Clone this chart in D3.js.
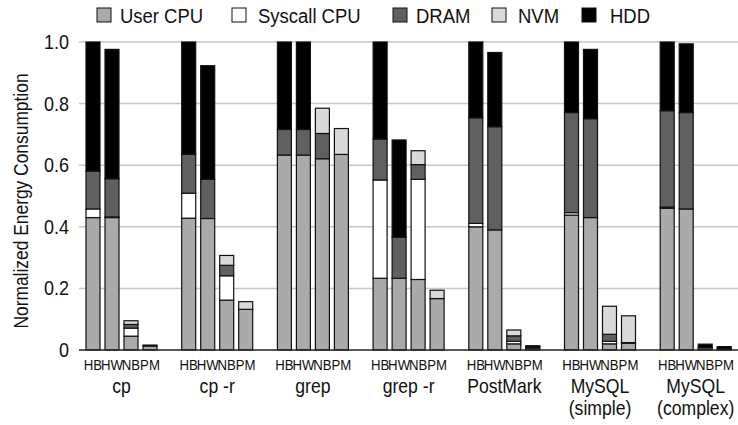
<!DOCTYPE html>
<html><head><meta charset="utf-8">
<script src="https://cdn.jsdelivr.net/npm/d3@7"></script>
<style>
body{margin:0;background:#fff;}
svg text{font-family:"Liberation Sans",Arial,sans-serif;fill:#111;}
</style></head>
<body><svg id="chart" width="738" height="425"></svg>
<script>
const categories = ["cp","cp -r","grep","grep -r","PostMark","MySQL\n(simple)","MySQL\n(complex)"];
const configs = ["HB","HW","NB","PM"];
const seriesNames = ["User CPU","Syscall CPU","DRAM","NVM","HDD"];
const userCPU = [[0.430,0.430,0.045,0.013],[0.428,0.427,0.162,0.132],[0.633,0.633,0.621,0.635],[0.233,0.233,0.229,0.167],[0.400,0.390,0.020,0.006],[0.438,0.430,0.020,0.022],[0.460,0.458,0.007,0.004]];
const syscallCPU = [[0.028,0.002,0.026,0],[0.081,0,0.079,0],[0,0,0,0],[0.319,0,0.325,0],[0.011,0,0.008,0.004],[0.008,0,0.008,0.002],[0.004,0,0,0]];
const dram = [[0.123,0.124,0.012,0],[0.126,0.127,0.034,0],[0.083,0.083,0.082,0],[0.133,0.133,0.048,0],[0.343,0.335,0.018,0.004],[0.325,0.321,0.023,0],[0.313,0.313,0,0]];
const nvm = [[0,0,0.012,0.003],[0,0,0.032,0.025],[0,0,0.082,0.084],[0,0,0.045,0.027],[0,0,0.019,0],[0,0,0.091,0.087],[0,0,0,0]];
const hdd = [[0.419,0.420,0,0],[0.365,0.369,0,0],[0.284,0.284,0,0],[0.315,0.316,0,0],[0.246,0.241,0,0],[0.229,0.225,0,0],[0.223,0.223,0.012,0.007]];
const yTicks = [0,0.2,0.4,0.6,0.8,1.0];
const yTickLabels = ["0","0.2","0.4","0.6","0.8","1.0"];

const colors = ["#aaaaaa","#ffffff","#606060","#d9d9d9","#000000"];
const seriesData = [userCPU, syscallCPU, dram, nvm, hdd];

const svg = d3.select("#chart");
const y = d3.scaleLinear().domain([0,1]).range([350,42]);
const xg = d3.scaleBand().domain(d3.range(categories.length)).range([86, 86+95.7*categories.length]).padding(0);
const xb = d3.scaleBand().domain(configs).range([0,71]).paddingInner(5/19).paddingOuter(0);

function txt(parent, x, yy, str, size, sx, anchor, rot) {
  return parent.append("text")
    .attr("transform", `translate(${x},${yy})${rot?` rotate(${rot})`:""} scale(${sx},1)`)
    .attr("font-size", size).attr("text-anchor", anchor||"start").text(str);
}

// gridlines
svg.append("g").selectAll("line").data(yTicks.filter(d=>d>0)).join("line")
  .attr("x1",79).attr("x2",738).attr("y1",d=>y(d)).attr("y2",d=>y(d))
  .attr("stroke","#c8c8c8").attr("stroke-width",1.5);

// y tick labels
const yl = svg.append("g");
yTicks.forEach((d,i)=>txt(yl, 69, y(d)+7, yTickLabels[i], 20, 0.9, "end"));

// axis title
txt(svg, 28, 201, "Normalized Energy Consumption", 20, 0.87, "middle", -90);

// bars
const segs = [];
categories.forEach((c,gi)=>{
  configs.forEach((cf,bi)=>{
    let acc = 0;
    seriesData.forEach((s,si)=>{
      const v = s[gi][bi];
      if (v>0) segs.push({gi,cf,si,y0:acc,y1:acc+v});
      acc += v;
    });
  });
});
svg.append("g").selectAll("rect").data(segs).join("rect")
  .attr("x",d=>xg(d.gi)+xb(d.cf))
  .attr("width",xb.bandwidth())
  .attr("y",d=>y(d.y1))
  .attr("height",d=>y(d.y0)-y(d.y1))
  .attr("fill",d=>colors[d.si])
  .attr("stroke","#111").attr("stroke-width",1.2);

// x axis line
svg.append("line").attr("x1",79).attr("x2",738).attr("y1",y(0)).attr("y2",y(0))
  .attr("stroke","#222").attr("stroke-width",1.5);

// bar labels and group labels
const xl = svg.append("g");
categories.forEach((c,gi)=>{
  configs.forEach(cf=>txt(xl, xg(gi)+xb(cf)+xb.bandwidth()/2, 370, cf, 15, 0.88, "middle"));
  c.split("\n").forEach((line,li)=>txt(xl, xg(gi)+35.5, 393+li*21.5, line, 20, 0.88, "middle"));
});

// legend
const legendSq = [97,232,393,492,582];
const legendTx = [120,258,416,518,610];
seriesNames.forEach((n,i)=>{
  svg.append("rect").attr("x",legendSq[i]).attr("y",8).attr("width",14).attr("height",14)
    .attr("fill",colors[i]).attr("stroke","#111").attr("stroke-width",1);
  txt(svg, legendTx[i], 23, n, 21, 0.88, "start");
});
</script></body></html>
